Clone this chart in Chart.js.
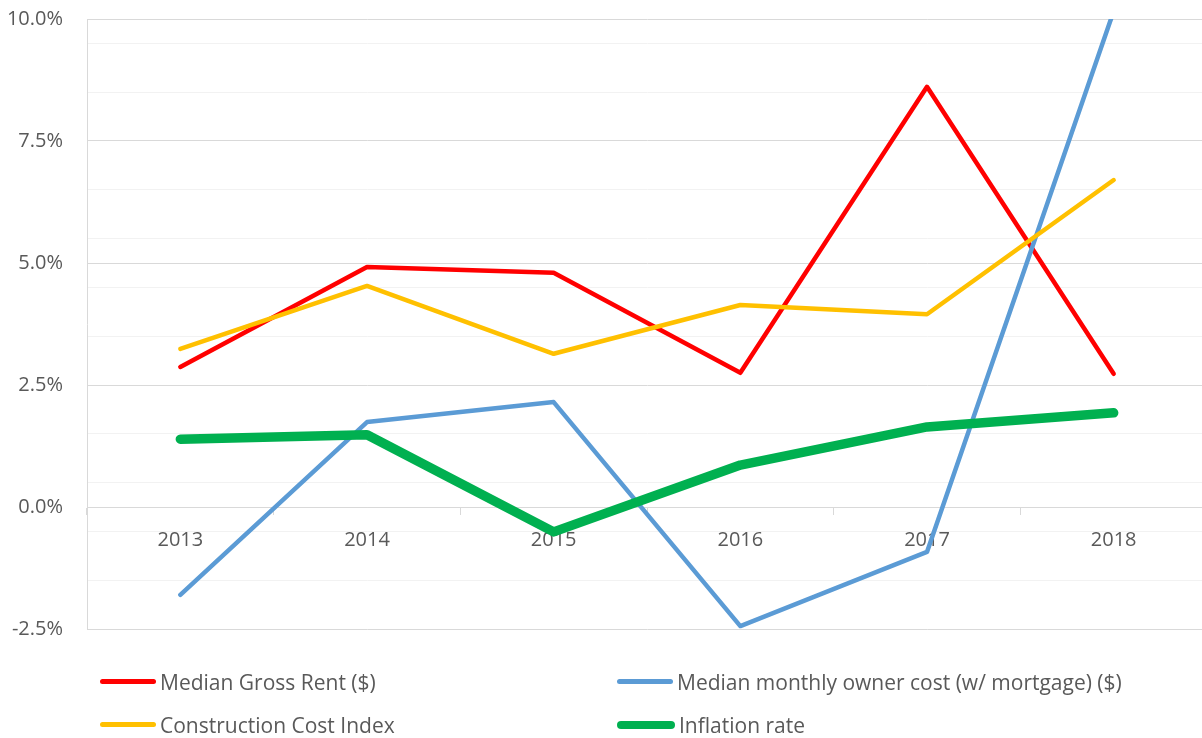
<!DOCTYPE html>
<html><head><meta charset="utf-8">
<script src="https://cdn.jsdelivr.net/npm/chart.js@4.4.0/dist/chart.umd.min.js"></script>
<style>
html,body{margin:0;padding:0;background:#fff;overflow:hidden;width:1202px;height:738px;}
#wrap{position:absolute;left:0;top:0;width:1207px;height:738px;}
.leg{position:absolute;font-family:'Open Sans';font-size:21px;color:#595959;white-space:nowrap;line-height:26px;height:26px;}
.leg i{position:absolute;top:10px;height:5px;border-radius:3px;}
.leg span{position:absolute;top:0;}
</style></head><body>
<div id="wrap"><canvas id="c" width="1207" height="738"></canvas></div>
<div id="legend"></div>
<script>
const years = ['2013', '2014', '2015', '2016', '2017', '2018'];
const medianGrossRent = [2.87, 4.92, 4.80, 2.75, 8.61, 2.73];
const medianOwnerCost = [-1.80, 1.74, 2.15, -2.44, -0.92, 10.16];
const constructionCostIndex = [3.24, 4.53, 3.14, 4.14, 3.95, 6.70];
const inflationRate = [1.39, 1.48, -0.51, 0.86, 1.64, 1.93];
const seriesNames = ['Median Gross Rent ($)', 'Median monthly owner cost (w/ mortgage) ($)', 'Construction Cost Index', 'Inflation rate'];
const yMajorTicks = [-2.5, 0, 2.5, 5, 7.5, 10];
const yMinorTicks = [-1.5, -0.5, 0.5, 1.5, 3.5, 4.5, 5.5, 6.5, 8.5, 9.5];

const colors = ['#FF0000', '#5B9BD5', '#FFC000', '#00B050'];
const widths = [4.5, 4.5, 4.5, 9.5];
const orders = [3, 2, 1, 0];
const seriesData = [medianGrossRent, medianOwnerCost, constructionCostIndex, inflationRate];
const FONT = {family: "'Open Sans'", size: 20};

const datasets = seriesNames.map((name, i) => ({
  label: name,
  data: seriesData[i],
  borderColor: colors[i],
  backgroundColor: colors[i],
  borderWidth: widths[i],
  borderCapStyle: 'round',
  borderJoinStyle: 'round',
  pointRadius: 0,
  pointHoverRadius: 0,
  tension: 0,
  fill: false,
  clip: 0,
  order: orders[i]
}));

const allTicks = yMajorTicks.concat(yMinorTicks).sort((a, b) => a - b);

new Chart(document.getElementById('c'), {
  type: 'line',
  data: {labels: years, datasets},
  options: {
    responsive: false,
    animation: false,
    layout: {padding: {top: 19, bottom: 109, left: 0, right: 0}},
    plugins: {legend: {display: false}, tooltip: {enabled: false}},
    scales: {
      x: {
        type: 'category',
        offset: true,
        position: {y: 0},
        afterFit: s => { s.height = 0; s.paddingLeft = 0; s.paddingRight = 0; },
        grid: {offset: true, drawOnChartArea: false, drawTicks: true, tickLength: 7, color: '#D9D9D9', lineWidth: 1},
        border: {display: true, color: '#D9D9D9', width: 1},
        ticks: {color: '#595959', font: FONT, padding: 14, maxRotation: 0, autoSkip: false}
      },
      y: {
        min: -2.5, max: 10,
        afterBuildTicks: s => { s.ticks = allTicks.map(v => ({value: v})); },
        afterFit: s => { s.width = 87; s.paddingTop = 0; s.paddingBottom = 0; },
        grid: {
          drawTicks: false,
          color: c => yMajorTicks.includes(c.tick.value) ? '#D9D9D9' : '#F2F2F2',
          lineWidth: 1
        },
        border: {display: true, color: '#D9D9D9', width: 1},
        ticks: {
          autoSkip: false,
          color: '#595959', font: FONT, padding: 24,
          callback: v => yMajorTicks.includes(v) ? v.toFixed(1) + '%' : ''
        }
      }
    }
  }
});

// HTML legend (two columns)
const legPos = [[100, 669], [617, 669], [100, 712], [617, 712]];
const legLen = [56, 56, 56, 58];
const leg = document.getElementById('legend');
seriesNames.forEach((name, i) => {
  const d = document.createElement('div');
  d.className = 'leg';
  d.style.left = legPos[i][0] + 'px';
  d.style.top = legPos[i][1] + 'px';
  const ln = document.createElement('i');
  ln.style.left = '0px';
  ln.style.width = legLen[i] + 'px';
  ln.style.background = colors[i];
  if (widths[i] > 5) { ln.style.height = '8px'; ln.style.top = '9px'; ln.style.borderRadius = '4px'; }
  const t = document.createElement('span');
  t.style.left = (legLen[i] + 4) + 'px';
  t.textContent = name;
  d.appendChild(ln); d.appendChild(t);
  leg.appendChild(d);
});
</script>
</body></html>
